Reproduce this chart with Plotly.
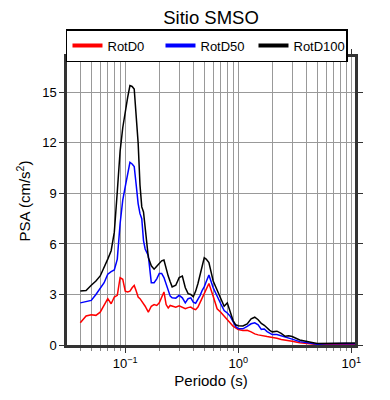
import plotly.graph_objects as go
import math

periods = [0.04, 0.045, 0.05, 0.055, 0.06, 0.065, 0.07, 0.075, 0.08, 0.085, 0.09, 0.095,
           0.1, 0.105, 0.11, 0.115, 0.12, 0.125, 0.13, 0.135, 0.14, 0.145, 0.15, 0.16,
           0.17, 0.18, 0.19, 0.2, 0.21, 0.22, 0.23, 0.24, 0.25, 0.26, 0.28, 0.3, 0.32,
           0.34, 0.36, 0.38, 0.4, 0.42, 0.44, 0.46, 0.48, 0.5, 0.52, 0.55, 0.6, 0.65,
           0.7, 0.75, 0.8, 0.85, 0.9, 0.95, 1.0, 1.1, 1.2, 1.3, 1.4, 1.5, 1.6, 1.7, 1.8,
           1.9, 2.0, 2.2, 2.4, 2.6, 2.8, 3.0, 3.5, 4.0, 4.5, 5, 6, 7, 8, 9, 10, 10.8]

rotd100 = [3.2, 3.24, 3.55, 3.8, 4.1, 4.6, 5.1, 5.6, 6.7, 9.1, 11.5, 12.9,
           13.9, 14.7, 15.4, 15.35, 15.2, 13.6, 12.0, 9.5, 8.2, 7.9, 7.0, 5.2,
           4.7, 4.5, 4.68, 4.85, 5.0, 5.05, 4.5, 4.09, 3.75, 3.45, 3.55, 4.0, 4.09,
           3.4, 3.05, 3.0, 2.86, 3.2, 3.65, 4.25, 4.8, 5.18, 5.1, 4.9, 3.8, 3.25,
           2.75, 2.3, 2.5, 1.95, 1.45, 1.2, 1.14, 1.13, 1.25, 1.55, 1.65, 1.5, 1.28, 1.17, 1.0,
           0.87, 0.78, 0.82, 0.69, 0.52, 0.55, 0.5, 0.3, 0.2, 0.15, 0.09, 0.1, 0.13, 0.14, 0.13, 0.12, 0.12]

rotd50 = [2.5, 2.56, 2.65, 3.0, 3.38, 3.7, 4.2, 4.36, 4.45, 5.1, 7.2, 8.6,
          9.4, 10.1, 10.85, 10.75, 10.6, 9.5, 8.4, 7.8, 7.5, 6.2, 5.7, 5.3,
          3.7, 3.7, 3.93, 4.25, 4.25, 4.0, 3.6, 3.25, 2.9, 2.8, 2.78, 2.95, 2.8,
          2.5, 2.75, 2.8, 2.55, 2.48, 2.7, 2.95, 3.25, 3.45, 3.75, 4.15, 3.4, 2.85,
          2.45, 2.05, 1.9, 1.7, 1.35, 1.1, 0.98, 0.96, 1.1, 1.26, 1.32, 1.2, 0.93, 0.95, 0.8,
          0.68, 0.62, 0.62, 0.55, 0.45, 0.43, 0.35, 0.2, 0.13, 0.08, 0.05, 0.07, 0.09, 0.09, 0.09, 0.08, 0.08]

rotd0 = [1.32, 1.72, 1.8, 1.76, 1.95, 2.4, 2.75, 2.45, 2.85, 2.95, 4.0, 3.9,
         3.2, 3.15, 3.2, 3.4, 3.54, 3.2, 2.85, 2.75, 2.6, 2.5, 2.3, 1.95,
         2.3, 2.4, 2.35, 2.5, 2.9, 3.15, 2.4, 2.2, 2.35, 2.3, 2.25, 2.33, 2.25,
         2.15, 2.22, 2.25, 2.15, 2.1, 2.25, 2.5, 2.8, 3.05, 3.3, 3.65, 2.9, 2.15,
         1.95, 1.7, 1.5, 1.3, 1.12, 1.0, 0.92, 0.86, 0.87, 0.78, 0.66, 0.6, 0.55, 0.52, 0.5,
         0.48, 0.46, 0.4, 0.33, 0.3, 0.26, 0.22, 0.13, 0.08, 0.04, 0.03, 0.02, 0.02, 0.02, 0.02, 0.02, 0.02]

series_names = ["RotD0", "RotD50", "RotD100"]
series_values = [rotd0, rotd50, rotd100]
series_colors = ["#ff0000", "#0000ff", "#000000"]

x_tickvals = [0.1, 1, 10]
x_ticktext = ["10<sup>\u22121</sup>", "10<sup>0</sup>", "10<sup>1</sup>"]

FONT = "Liberation Sans, Arial, Helvetica, sans-serif"

fig = go.Figure()
for name, vals, col in zip(series_names, series_values, series_colors):
    fig.add_trace(go.Scatter(x=periods, y=vals, mode="lines", name=name,
                             line=dict(color=col, width=1.5), showlegend=False))
for name, col in zip(series_names, series_colors):
    fig.add_trace(go.Scatter(x=[None], y=[None], mode="lines", name=name,
                             line=dict(color=col, width=4), showlegend=True))

# page body adds an 8px margin, so the figure is sized to fit inside it
fig.update_layout(
    width=374, height=384,
    margin=dict(l=59, r=27, t=49, b=47, autoexpand=False),
    paper_bgcolor="white", plot_bgcolor="white",
    font=dict(family=FONT, color="black", size=13),
    title=dict(text="Sitio SMSO", x=0.5, xref="paper", xanchor="center",
               y=1 - 3 / 384, yanchor="top", pad=dict(t=0, b=0), font=dict(size=18.5)),
    legend=dict(orientation="h", x=-0.0035, xanchor="left", y=1 + 28 / 288, yanchor="top",
                bordercolor="black", borderwidth=1.5, font=dict(size=13),
                entrywidth=48, entrywidthmode="pixels", tracegroupgap=0,
                itemwidth=30),
    showlegend=True,
)

fig.update_xaxes(
    type="log", range=[math.log10(0.0305), math.log10(10.8)],
    tickvals=x_tickvals, ticktext=x_ticktext,
    ticks="outside", ticklen=5, tickwidth=1, tickcolor="#333",
    showline=True, linewidth=2.5, linecolor="#333", mirror="ticks",
    showgrid=True, gridcolor="#999", gridwidth=1,
    minor=dict(dtick="D1", ticks="outside", ticklen=3, tickcolor="#888",
               showgrid=True, gridcolor="#999", gridwidth=1),
    title=dict(text="Periodo (s)", font=dict(size=15), standoff=6),
    tickfont=dict(size=13), zeroline=False, automargin=False,
)
fig.update_yaxes(
    range=[0, 17.1], dtick=3, tick0=0,
    ticks="outside", ticklen=5, tickwidth=1, tickcolor="#333",
    showline=True, linewidth=2.5, linecolor="#333", mirror="ticks",
    showgrid=True, gridcolor="#999", gridwidth=1,
    title=dict(text="PSA (cm/s<sup>2</sup>)", font=dict(size=15), standoff=8),
    tickfont=dict(size=13), zeroline=False, automargin=False,
)

fig.write_html("out.html")
